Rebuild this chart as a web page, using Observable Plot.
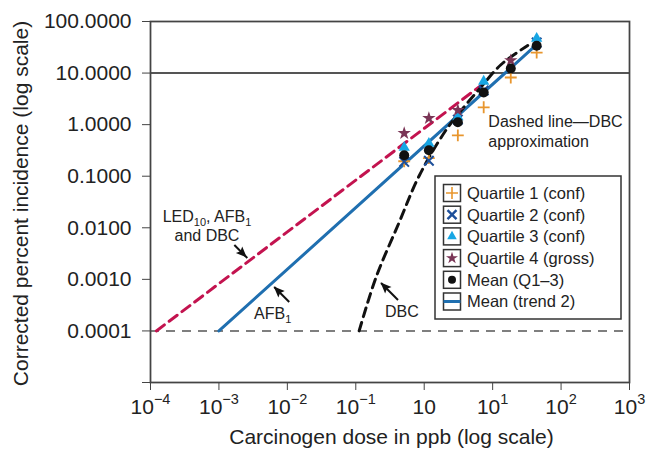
<!DOCTYPE html>
<html>
<head>
<meta charset="utf-8">
<script src="https://cdn.jsdelivr.net/npm/d3@7"></script>
<script src="https://cdn.jsdelivr.net/npm/@observablehq/plot@0.6"></script>
<style>
  html, body { margin: 0; padding: 0; background: #fff; }
  #chart { width: 659px; height: 450px; }
</style>
</head>
<body>
<div id="chart"></div>
<script>
// ---- data ----
const doses    = [0.51, 1.17, 3.1, 7.4, 18.4, 44];
const q1Conf   = [0.195, 0.224, 0.62, 2.17, 8.2, 25];
const q2Conf   = [0.19, 0.20, 1.25, 4.6, null, 39];
const q3Conf   = [0.36, 0.43, 1.4, 6.9, null, 46.9];
const q4Gross  = [0.68, 1.33, 1.9, null, 17.6, null];
const meanQ13  = [0.255, 0.32, 1.11, 4.2, 12.3, 34];

// LED10 line (AFB1 and DBC), AFB1 trend line, DBC approximation curve
const ledX = [1.22e-4, 7.4];
const ledY = [1e-4, 6.3];
const afbX = [1e-3, 42.6];
const afbY = [1e-4, 34.3];
const dbcX = [0.112, 0.198, 0.428, 0.838, 2.07, 3.79, 6.71, 13.2, 32.6];
const dbcY = [1e-4, 0.0011, 0.0125, 0.1, 0.776, 2.17, 5.28, 14.5, 34.3];

const thresholdY = 1e-4;
const refLineY = 10;

// ticks
const xTicks = [1e-4, 1e-3, 1e-2, 1e-1, 1, 10, 100, 1000];
const xTickLabels = ["10^\u22124", "10^\u22123", "10^\u22122", "10^\u22121", "10", "10^1", "10^2", "10^3"];
const yTicks = [1e-5, 1e-4, 1e-3, 1e-2, 1e-1, 1, 10, 100];
const yTickLabels = ["", "0.0001", "0.0010", "0.0100", "0.1000", "1.0000", "10.0000", "100.0000"];

// annotation arrows (tail -> head), data units
const arrowX1 = [1.68e-3, 0.01064, 0.414];
const arrowY1 = [4.62e-3, 3.65e-4, 3.98e-4];
const arrowX2 = [2.6e-3, 6.43e-3, 0.234];
const arrowY2 = [2.59e-3, 7.1e-4, 8.5e-4];

// legend entries
const legendLabels = ["Quartile 1 (conf)", "Quartile 2 (conf)", "Quartile 3 (conf)", "Quartile 4 (gross)", "Mean (Q1\u20133)", "Mean (trend 2)"];

const C = {
  q1: "#e8962e", q2: "#1d4f9a", q3: "#17a6e4", q4: "#7a3556",
  mean: "#111111", blue: "#1f6fb0", red: "#c3134f", frame: "#444"
};

const pts = (ys) => doses.map((x, i) => ({x, y: ys[i]})).filter(d => d.y != null);
const line = (xs, ys) => xs.map((x, i) => ({x, y: ys[i]}));

const svg = Plot.plot({
  width: 659,
  height: 450,
  marginLeft: 150,
  marginRight: 30,
  marginTop: 21,
  marginBottom: 68,
  style: {fontFamily: "'Liberation Sans', Arial, Helvetica, sans-serif", fontSize: "21px", color: "#222", background: "#fff"},
  x: {type: "log", domain: [1e-4, 1e3], label: null},
  y: {type: "log", domain: [1e-5, 100], label: null},
  marks: [
    Plot.ruleY([thresholdY], {stroke: "#555", strokeWidth: 1.5, strokeDasharray: "9,7"}),
    Plot.ruleY([refLineY], {stroke: "#555", strokeWidth: 2}),
    Plot.frame({stroke: C.frame, strokeWidth: 1.75}),
    Plot.axisX(xTicks, {tickSize: 8, tickPadding: 9, color: "#222", stroke: C.frame,
      tickFormat: d => xTickLabels[xTicks.indexOf(d)], label: null}),
    Plot.axisY(yTicks, {tickSize: 8, tickPadding: 11, color: "#222", stroke: C.frame,
      tickFormat: d => yTickLabels[yTicks.indexOf(d)], label: null}),
    Plot.line(line(ledX, ledY), {x: "x", y: "y", stroke: C.red, strokeWidth: 3, strokeDasharray: "10,6"}),
    Plot.line(line(afbX, afbY), {x: "x", y: "y", stroke: C.blue, strokeWidth: 3}),
    Plot.line(line(dbcX, dbcY), {x: "x", y: "y", stroke: "#111", strokeWidth: 3, strokeDasharray: "9,6", curve: "catmull-rom"}),
    Plot.dot(pts(q1Conf), {x: "x", y: "y", symbol: "plus", r: 3.9, stroke: C.q1, strokeWidth: 1.8, fill: "none"}),
    Plot.dot(pts(q2Conf), {x: "x", y: "y", symbol: "times", r: 4.4, stroke: C.q2, strokeWidth: 2, fill: "none"}),
    Plot.dot(pts(q3Conf), {x: "x", y: "y", symbol: "triangle", r: 4.2, fill: C.q3, stroke: "none"}),
    Plot.dot(pts(q4Gross), {x: "x", y: "y", symbol: "star", r: 4.2, fill: C.q4, stroke: "none"}),
    Plot.dot(pts(meanQ13), {x: "x", y: "y", symbol: "circle", r: 5, fill: C.mean, stroke: "none"}),
    Plot.link({length: arrowX1.length}, {x1: arrowX1, y1: arrowY1, x2: arrowX2, y2: arrowY2,
      stroke: "#111", strokeWidth: 2})
  ]
});
document.getElementById("chart").append(svg);

const root = d3.select(svg);

// superscripts on the x tick labels
root.selectAll("text").filter(function () { return this.textContent.includes("^"); }).each(function () {
  const [b, e] = this.textContent.split("^");
  const t = d3.select(this);
  t.text("");
  t.append("tspan").text(b);
  t.append("tspan").attr("dy", "-0.75em").attr("font-size", "14.5px").text(e);
});

// scales for annotations
const sx = svg.scale("x"), sy = svg.scale("y");
const X = d3.scaleLog().domain(sx.domain).range(sx.range);
const Y = d3.scaleLog().domain(sy.domain).range(sy.range);
const font = "'Liberation Sans', Arial, Helvetica, sans-serif";

// filled arrowheads at the arrow tips
arrowX1.forEach((_, i) => {
  const x1 = X(arrowX1[i]), y1 = Y(arrowY1[i]), x2 = X(arrowX2[i]), y2 = Y(arrowY2[i]);
  const a = Math.atan2(y2 - y1, x2 - x1) * 180 / Math.PI;
  root.append("path").attr("d", "M0,0L-11,-4.5L-9,0L-11,4.5Z").attr("fill", "#111")
    .attr("transform", `translate(${x2},${y2}) rotate(${a})`);
});

// annotation anchors (data units)
const annLedX = 6.8e-4, annLedY = 0.0129;
const annAfbX = 6.2e-3, annAfbY = 1.63e-4;
const annDbcX = 0.481,  annDbcY = 1.79e-4;
const annDashX = 8.8,   annDashY = 0.888;

const ann = root.append("g").attr("font-family", font).attr("font-size", 16).attr("fill", "#222");
{
  const t = ann.append("text").attr("text-anchor", "middle").attr("x", X(annLedX)).attr("y", Y(annLedY));
  const l1 = t.append("tspan").attr("x", X(annLedX));
  l1.append("tspan").text("LED");
  l1.append("tspan").attr("font-size", 11).attr("dy", "4").text("10");
  l1.append("tspan").attr("dy", "-4").text(", AFB");
  l1.append("tspan").attr("font-size", 11).attr("dy", "4").text("1");
  t.append("tspan").attr("x", X(annLedX)).attr("y", Y(annLedY) + 19).text("and DBC");
}
{
  const t = ann.append("text").attr("text-anchor", "middle").attr("x", X(annAfbX)).attr("y", Y(annAfbY));
  t.append("tspan").text("AFB");
  t.append("tspan").attr("font-size", 11).attr("dy", "4").text("1");
}
ann.append("text").attr("text-anchor", "middle").attr("x", X(annDbcX)).attr("y", Y(annDbcY)).text("DBC");
ann.append("text").attr("text-anchor", "start").attr("x", X(annDashX)).attr("y", Y(annDashY)).text("Dashed line\u2014DBC");
ann.append("text").attr("text-anchor", "start").attr("x", X(annDashX)).attr("y", Y(annDashY) + 20).text("approximation");

// axis titles
const [fx0, fx1] = sx.range, [fy0, fy1] = sy.range;
root.append("text").attr("font-family", font).attr("font-size", 21).attr("fill", "#222")
  .attr("text-anchor", "middle").attr("x", (fx0 + fx1) / 2 + 2).attr("y", 444)
  .text("Carcinogen dose in ppb (log scale)");
root.append("text").attr("font-family", font).attr("font-size", 21).attr("fill", "#222")
  .attr("text-anchor", "middle").attr("transform", `translate(28,${(fy0 + fy1) / 2 + 2}) rotate(-90)`)
  .text("Corrected percent incidence (log scale)");

// legend
const lg = root.append("g").attr("transform", "translate(435,176)").attr("font-family", font);
lg.append("rect").attr("width", 186).attr("height", 143).attr("fill", "#fff").attr("stroke", "#333").attr("stroke-width", 1.5);
legendLabels.forEach((lab, i) => {
  const cy = 17 + i * 21.7;
  const g = lg.append("g").attr("transform", `translate(17,${cy})`);
  g.append("rect").attr("x", -8.5).attr("y", -8.5).attr("width", 17).attr("height", 17)
    .attr("fill", "#fff").attr("stroke", "#333").attr("stroke-width", 1.5);
  if (i === 0) {
    g.append("path").attr("d", "M-6,0H6M0,-6V6").attr("stroke", C.q1).attr("stroke-width", 1.6);
  } else if (i === 1) {
    g.append("path").attr("d", "M-4.5,-4.5L4.5,4.5M-4.5,4.5L4.5,-4.5").attr("stroke", C.q2).attr("stroke-width", 2.4);
  } else if (i === 2) {
    g.append("path").attr("d", d3.symbol(d3.symbolTriangle, 40)()).attr("fill", C.q3);
  } else if (i === 3) {
    g.append("path").attr("d", d3.symbol(d3.symbolStar, 45)()).attr("fill", C.q4);
  } else if (i === 4) {
    g.append("circle").attr("r", 4).attr("fill", C.mean);
  } else {
    g.append("path").attr("d", "M-8.5,0H8.5").attr("stroke", C.blue).attr("stroke-width", 3);
  }
  lg.append("text").attr("text-anchor", "start").attr("x", 32).attr("y", cy).attr("dy", "0.36em")
    .attr("font-size", 16.5).attr("fill", "#222").text(lab);
});
</script>
</body>
</html>
